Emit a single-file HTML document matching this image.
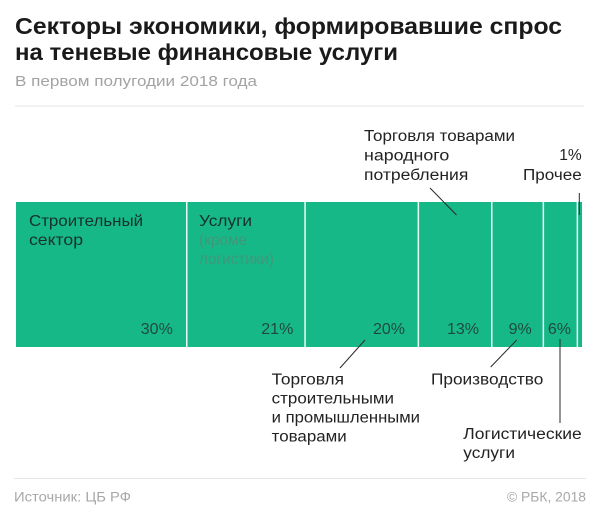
<!DOCTYPE html>
<html><head><meta charset="utf-8"><style>
html,body{margin:0;padding:0;background:#fff;}
svg{display:block;}
text{font-family:"Liberation Sans","DejaVu Sans",sans-serif;}
</style></head><body>
<svg width="600" height="516" viewBox="0 0 600 516" xmlns="http://www.w3.org/2000/svg">
<rect width="600" height="516" fill="#fff"/>
<!-- title -->
<text x="15" y="34" font-size="23" font-weight="bold" fill="#1a1a1a" textLength="547" lengthAdjust="spacingAndGlyphs">Секторы экономики, формировавшие спрос</text>
<text x="15" y="60" font-size="23" font-weight="bold" fill="#1a1a1a" textLength="383" lengthAdjust="spacingAndGlyphs">на теневые финансовые услуги</text>
<text x="15" y="86" font-size="15" fill="#a3a3a3" textLength="242" lengthAdjust="spacingAndGlyphs">В первом полугодии 2018 года</text>
<rect x="15" y="105.5" width="569" height="1" fill="#e6e6e6"/>

<!-- bar -->
<rect x="16" y="202" width="566" height="145" fill="#17b888"/>
<g fill="#e9fbf3">
<rect x="186" y="202" width="1.5" height="145"/>
<rect x="304.3" y="202" width="1.5" height="145"/>
<rect x="417.6" y="202" width="1.5" height="145"/>
<rect x="491" y="202" width="1.5" height="145"/>
<rect x="542.6" y="202" width="1.5" height="145"/>
<rect x="576.6" y="202" width="1.5" height="145"/>
</g>

<!-- in-bar labels -->
<g font-size="16" fill="#16302a">
<text x="29" y="226" textLength="114" lengthAdjust="spacingAndGlyphs">Строительный</text>
<text x="29" y="245" textLength="54" lengthAdjust="spacingAndGlyphs">сектор</text>
<text x="199" y="226" textLength="53" lengthAdjust="spacingAndGlyphs">Услуги</text>
</g>
<g font-size="16" fill="#3f9878">
<text x="199" y="245" textLength="48" lengthAdjust="spacingAndGlyphs">(кроме</text>
<text x="199" y="264" textLength="75" lengthAdjust="spacingAndGlyphs">логистики)</text>
</g>
<g font-size="16" fill="#1f4a3b" text-anchor="end">
<text x="172.8" y="334">30%</text>
<text x="293.3" y="334">21%</text>
<text x="405" y="334">20%</text>
<text x="479" y="334">13%</text>
<text x="531.7" y="334">9%</text>
<text x="571" y="334">6%</text>
</g>

<!-- leader lines -->
<g stroke="#2a2a2a" stroke-width="1" fill="none">
<line x1="430" y1="188" x2="456.5" y2="215"/>
<line x1="579.3" y1="193" x2="579.3" y2="215"/>
<line x1="365" y1="340" x2="340" y2="368"/>
<line x1="516.7" y1="340" x2="490.7" y2="367"/>
<line x1="560" y1="339" x2="560" y2="423"/>
</g>

<!-- annotations -->
<g font-size="15.5" fill="#222">
<text x="364" y="141" textLength="151" lengthAdjust="spacingAndGlyphs">Торговля товарами</text>
<text x="364" y="160.5" textLength="85.3" lengthAdjust="spacingAndGlyphs">народного</text>
<text x="364" y="180" textLength="104.3" lengthAdjust="spacingAndGlyphs">потребления</text>
<text x="581.7" y="160" text-anchor="end">1%</text>
<text x="523" y="180" textLength="58.7" lengthAdjust="spacingAndGlyphs">Прочее</text>

<text x="271.7" y="384.3" textLength="72.3" lengthAdjust="spacingAndGlyphs">Торговля</text>
<text x="271.7" y="403.3" textLength="122.3" lengthAdjust="spacingAndGlyphs">строительными</text>
<text x="271.7" y="422.3" textLength="148.3" lengthAdjust="spacingAndGlyphs">и промышленными</text>
<text x="271.7" y="441.3" textLength="75" lengthAdjust="spacingAndGlyphs">товарами</text>
<text x="431" y="384.3" textLength="112.3" lengthAdjust="spacingAndGlyphs">Производство</text>
<text x="463.3" y="439" textLength="118.4" lengthAdjust="spacingAndGlyphs">Логистические</text>
<text x="463.3" y="458" textLength="51.7" lengthAdjust="spacingAndGlyphs">услуги</text>
</g>

<!-- footer -->
<rect x="14" y="478" width="572" height="1" fill="#e6e6e6"/>
<text x="14" y="501.7" font-size="14" fill="#a8a8a8" textLength="117" lengthAdjust="spacingAndGlyphs">Источник: ЦБ РФ</text>
<text x="507" y="501.7" font-size="14" fill="#a8a8a8" textLength="79" lengthAdjust="spacingAndGlyphs">© РБК, 2018</text>
</svg>
</body></html>
